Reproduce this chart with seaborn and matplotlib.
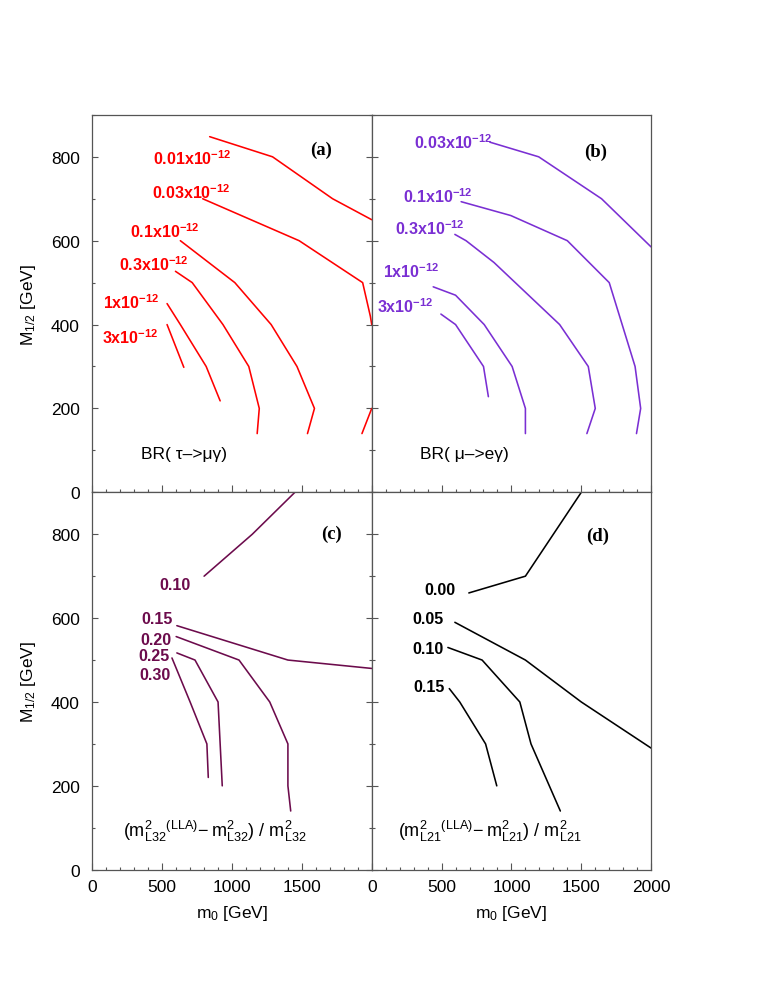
import matplotlib
matplotlib.use("Agg")
import matplotlib.pyplot as plt
import seaborn as sns
from matplotlib.ticker import MultipleLocator, FixedLocator

# ---------------- data (m0 [GeV], M1/2 [GeV]) ----------------
# (a) BR(tau -> mu gamma)
a_labels = ["0.01x10", "0.03x10", "0.1x10", "0.3x10", "1x10", "3x10"]
a_x = [[840, 1290, 1720, 2000],
       [790, 1480, 1935, 1990, 2000],
       [630, 1020, 1280, 1465, 1590, 1540],
       [595, 715, 935, 1120, 1195, 1180],
       [535, 630, 815, 915],
       [535, 655]]
a_y = [[848, 800, 700, 650],
       [700, 600, 500, 420, 400],
       [600, 500, 400, 300, 200, 140],
       [527, 500, 400, 300, 200, 140],
       [450, 400, 300, 218],
       [400, 298]]
a_extra_x = [1930, 2000]
a_extra_y = [140, 200]
a_lab_x = [434, 430, 268, 191, 73, 66]
a_lab_y = [799, 718, 623, 546, 454, 370]

# (b) BR(mu -> e gamma)
b_labels = ["0.03x10", "0.1x10", "0.3x10", "1x10", "3x10"]
b_x = [[845, 1195, 1645, 2000],
       [640, 995, 1400, 1700, 1885, 1925, 1895],
       [595, 675, 875, 1345, 1550, 1600, 1540],
       [440, 600, 805, 1005, 1100, 1100],
       [495, 600, 800, 835]]
b_y = [[835, 800, 700, 585],
       [693, 660, 600, 500, 300, 200, 140],
       [615, 600, 548, 400, 300, 200, 140],
       [490, 470, 400, 300, 200, 140],
       [425, 400, 300, 228]]
b_lab_x = [306, 222, 167, 79, 40]
b_lab_y = [837, 707, 631, 528, 445]

# (c) (m2_L32(LLA) - m2_L32) / m2_L32
c_labels = ["0.10", "0.15", "0.20", "0.25", "0.30"]
c_x = [[800, 1145, 1450],
       [605, 1400, 2000],
       [600, 1050, 1270, 1400, 1400, 1420],
       [605, 735, 900, 930],
       [570, 700, 820, 830]]
c_y = [[700, 800, 900],
       [582, 500, 480],
       [556, 500, 400, 300, 200, 140],
       [517, 500, 400, 200],
       [505, 400, 300, 220]]
c_lab_x = [481, 350, 341, 330, 337]
c_lab_y = [681, 598, 550, 512, 465]

# (d) (m2_L21(LLA) - m2_L21) / m2_L21
d_labels = ["0.00", "0.05", "0.10", "0.15"]
d_x = [[695, 1100, 1500],
       [595, 1100, 1500, 2000],
       [545, 790, 1060, 1140, 1350],
       [555, 630, 815, 895]]
d_y = [[660, 700, 900],
       [590, 500, 400, 290],
       [530, 500, 400, 300, 140],
       [432, 400, 300, 200]]
d_lab_x = [378, 294, 294, 299]
d_lab_y = [668, 600, 528, 437]

x_ticks_left = [0, 500, 1000, 1500]
x_ticks_right = [0, 500, 1000, 1500, 2000]
y_ticks = [0, 200, 400, 600, 800]

# ---------------- style ----------------
sns.set_style("ticks")
plt.rcParams["font.family"] = ["Liberation Sans", "DejaVu Sans"]
plt.rcParams["mathtext.fontset"] = "custom"
plt.rcParams["mathtext.rm"] = "Liberation Sans"
plt.rcParams["mathtext.it"] = "Liberation Sans:italic"
plt.rcParams["mathtext.bf"] = "Liberation Sans:bold"
plt.rcParams["text.color"] = "black"
plt.rcParams["axes.labelcolor"] = "black"
plt.rcParams["xtick.labelcolor"] = "black"
plt.rcParams["ytick.labelcolor"] = "black"

RED = "#ff0000"
PURPLE = "#7a2fd3"
MAROON = "#6c0b4c"
BLACK = "#000000"
AXC = "#555555"

fig = plt.figure(figsize=(7.63, 9.87), dpi=100)
L, M, W = 0.121, 0.4872, 0.3662
B1, H = 0.1178, 0.3824
B2 = 0.5002
ax_a = fig.add_axes([L, B2, W, H])
ax_b = fig.add_axes([M, B2, W, H])
ax_c = fig.add_axes([L, B1, W, H])
ax_d = fig.add_axes([M, B1, W, H])


def setup(ax, left, bottom):
    ax.set_xlim(0, 2000)
    ax.set_ylim(0, 900)
    for s in ax.spines.values():
        s.set_color(AXC)
        s.set_linewidth(0.9)
    ax.xaxis.set_major_locator(FixedLocator(x_ticks_left + [2000] if left else x_ticks_right))
    ax.xaxis.set_minor_locator(MultipleLocator(100))
    ax.yaxis.set_major_locator(FixedLocator(y_ticks))
    ax.yaxis.set_minor_locator(MultipleLocator(100))
    ax.tick_params(axis="both", which="both", direction="in", color=AXC, width=0.8)
    ax.tick_params(axis="x", which="major", length=5, pad=6.5, labelsize=12.5)
    ax.tick_params(axis="x", which="minor", length=2.5)
    ax.tick_params(axis="y", which="major", length=4.5, pad=9, labelsize=12.5)
    ax.tick_params(axis="y", which="minor", length=2.5)
    ax.tick_params(axis="y", which="both", right=left, left=True)
    if left:
        ax.set_yticklabels([str(v) for v in y_ticks])
        ax.set_ylabel("M$_{1/2}$ [GeV]", fontsize=12.5, labelpad=9)
    else:
        ax.set_yticklabels([])
        ax.set_ylabel("")
    if bottom:
        if left:
            ax.set_xticklabels([str(v) for v in x_ticks_left] + [""])
        else:
            ax.set_xticklabels([str(v) for v in x_ticks_right])
        ax.set_xlabel("m$_0$ [GeV]", fontsize=12.5, labelpad=7)
    else:
        ax.set_xticklabels([])
        ax.set_xlabel("")


def draw(ax, xs, ys, color):
    for x, y in zip(xs, ys):
        sns.lineplot(x=x, y=y, ax=ax, sort=False, estimator=None,
                     color=color, linewidth=1.15)


def labels(ax, texts, lx, ly, color, sup):
    for t, x, y in zip(texts, lx, ly):
        s = t + (r"$^{\mathbf{-12}}$" if sup else "")
        ax.text(x, y, s, ha="left", va="center", fontsize=11.5,
                fontweight="bold", color=color)


FORM32 = (r"$(\mathrm{m}^{2}_{\mathrm{L32}}{}^{(\mathrm{LLA})}\!-"
          r"\mathrm{m}^{2}_{\mathrm{L32}})\ /\ \mathrm{m}^{2}_{\mathrm{L32}}$")
FORM21 = (r"$(\mathrm{m}^{2}_{\mathrm{L21}}{}^{(\mathrm{LLA})}\!-"
          r"\mathrm{m}^{2}_{\mathrm{L21}})\ /\ \mathrm{m}^{2}_{\mathrm{L21}}$")

PFS = 13.5

# (a)
draw(ax_a, a_x, a_y, RED)
draw(ax_a, [a_extra_x], [a_extra_y], RED)
labels(ax_a, a_labels, a_lab_x, a_lab_y, RED, True)
ax_a.text(1640, 818, "(a)", ha="center", va="center", fontsize=PFS,
          fontweight="bold", family="Liberation Serif")
ax_a.text(351, 92, "BR( τ–>μγ)", ha="left", va="center", fontsize=12.5)
setup(ax_a, True, False)

# (b)
draw(ax_b, b_x, b_y, PURPLE)
labels(ax_b, b_labels, b_lab_x, b_lab_y, PURPLE, True)
ax_b.text(1602, 814, "(b)", ha="center", va="center", fontsize=PFS,
          fontweight="bold", family="Liberation Serif")
ax_b.text(343, 92, "BR( μ–>eγ)", ha="left", va="center", fontsize=12.5)
setup(ax_b, False, False)

# (c)
draw(ax_c, c_x, c_y, MAROON)
labels(ax_c, c_labels, c_lab_x, c_lab_y, MAROON, False)
ax_c.text(1712, 802, "(c)", ha="center", va="center", fontsize=PFS,
          fontweight="bold", family="Liberation Serif")
ax_c.text(222, 93, FORM32, ha="left", va="center", fontsize=13)
setup(ax_c, True, True)

# (d)
draw(ax_d, d_x, d_y, BLACK)
labels(ax_d, d_labels, d_lab_x, d_lab_y, BLACK, False)
ax_d.text(1614, 797, "(d)", ha="center", va="center", fontsize=PFS,
          fontweight="bold", family="Liberation Serif")
ax_d.text(191, 93, FORM21, ha="left", va="center", fontsize=13)
setup(ax_d, False, True)

fig.savefig("out.png", dpi=100)
